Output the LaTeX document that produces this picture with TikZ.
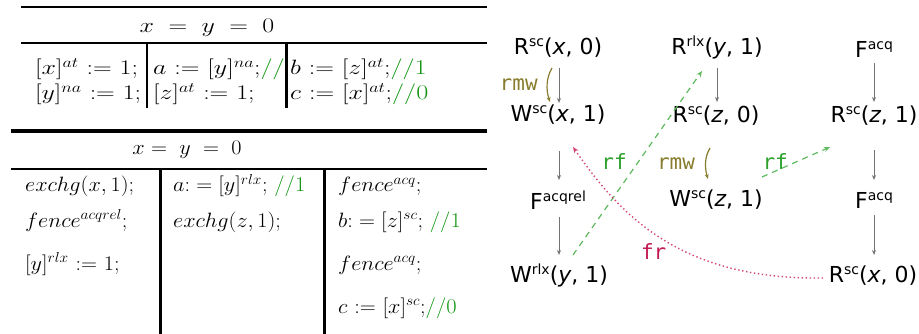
\documentclass[tikz,border=0pt]{standalone}
\usepackage{graphicx}
\usepackage{fontspec}
\usetikzlibrary{arrows.meta}
\newfontfamily\gfont{DejaVu Sans}
\newfontfamily\lfont{DejaVu Sans Mono}
\definecolor{cgreen}{RGB}{20,150,20}
\definecolor{pogray}{RGB}{115,115,115}
\definecolor{rmwcol}{RGB}{135,125,45}
\definecolor{rftext}{RGB}{45,160,45}
\definecolor{rfline}{RGB}{95,185,95}
\definecolor{frtext}{RGB}{195,25,85}
\definecolor{frline}{RGB}{210,70,120}
\newcommand\gsup[1]{\raisebox{8pt}{\fontsize{14}{14}\selectfont #1}}
\newcommand\gv[1]{\textit{#1}}
\newcommand\cmt[1]{\textcolor{cgreen}{#1}}
\newcommand\wa[1]{\scalebox{1.25}[1]{#1}}
\newcommand\wb[1]{\scalebox{1.07}[1]{#1}}
\begin{document}
\begin{tikzpicture}[x=1pt,y=-1pt,
  cellA/.style={font=\fontsize{21}{24}\selectfont, inner sep=0pt, anchor=base west},
  cellB/.style={font=\fontsize{21}{24}\selectfont, inner sep=0pt, anchor=base west},
  hdrA/.style={font=\fontsize{21}{24}\selectfont, inner sep=0pt, anchor=base},
  hdrB/.style={font=\fontsize{21}{24}\selectfont, inner sep=0pt, anchor=base},
  gnode/.style={font=\gfont\fontsize{22}{26}\selectfont, inner sep=0pt, anchor=base},
  elabel/.style={font=\lfont\fontsize{21}{24}\selectfont, inner sep=0pt},
  po/.style={draw=pogray, line width=0.9pt, -{Stealth[length=5pt,width=4pt]}},
  rmwedge/.style={draw=rmwcol, line width=1.2pt, -{Stealth[length=5pt,width=4pt]}},
  rfedge/.style={draw=rfline, line width=1.2pt, dash pattern=on 6pt off 5pt, -{Stealth[length=6pt,width=5pt]}},
  fredge/.style={draw=frline, line width=1.4pt, dash pattern=on 1.4pt off 2.6pt, -{Stealth[length=6pt,width=5pt]}}
]
\useasboundingbox (0,0) rectangle (919,334);

% ---------- Table 1 ----------
\node[hdrA] (h1) at (207,33) {\wa{$x\;=\;y\;=\;0$}};
\node[cellA] (a11) at (35,75) {\wa{$[x]^{at}\ {:=}\ 1;$}};
\node[cellA] (a12) at (35,100) {\wa{$[y]^{na}\ {:=}\ 1;$}};
\begin{scope}
  \clip (148,44) rectangle (285,108);
  \node[cellA] (a21) at (153,75) {\wa{$a\ {:=}\ [y]^{na};$\cmt{//}}};
\end{scope}
\node[cellA] (a22) at (153,100) {\wa{$[z]^{at}\ {:=}\ 1;$}};
\node[cellA] (a31) at (290,75) {\wa{$b\ {:=}\ [z]^{at};$\cmt{//1}}};
\node[cellA] (a32) at (290,100) {\wa{$c\ {:=}\ [x]^{at};$\cmt{//0}}};
\draw[line width=2pt] (21,6.7) -- (487,6.7);
\draw[line width=1.3pt] (21,43) -- (487,43);
\draw[line width=1.3pt] (147,43) -- (147,108);
\draw[line width=3pt] (286,43) -- (286,108);

% ---------- Table 2 ----------
\draw[line width=3.5pt] (11,131) -- (487,131);
\draw[line width=2pt] (11,169) -- (487,169);
\draw[line width=3pt] (160,169) -- (160,334);
\draw[line width=3pt] (324,169) -- (324,334);
\node[hdrB] (h2) at (187,155) {\wb{$x=\;y\;=\;0$}};
\node[cellB] (b11) at (25,192) {\wb{$exchg(x,1);$}};
\node[cellB] (b12) at (25,227) {\wb{$fence^{acqrel};$}};
\node[cellB] (b13) at (25,270) {\wb{$[y]^{rlx}\ {:=}\ 1;$}};
\node[cellB] (b21) at (173,192) {\wb{$a{:}=[y]^{rlx};$ \cmt{//1}}};
\node[cellB] (b22) at (173,227) {\wb{$exchg(z,1);$}};
\node[cellB] (b31) at (338,192) {\wb{$fence^{acq};$}};
\node[cellB] (b32) at (338,227) {\wb{$b{:}=[z]^{sc};$ \cmt{//1}}};
\node[cellB] (b33) at (338,270) {\wb{$fence^{acq};$}};
\node[cellB] (b34) at (338,313) {\wb{$c\ {:=}\ [x]^{sc};$\cmt{//0}}};

% ---------- Graph ----------
\node[gnode] (Rx0a) at (558,55) {R\gsup{sc}(\gv{x}, 0)};
\node[gnode] (Ry1) at (717,55) {R\gsup{rlx}(\gv{y}, 1)};
\node[gnode] (Facqa) at (874,58) {F\gsup{acq}};
\node[gnode] (Wx1) at (558,122) {W\gsup{sc}(\gv{x}, 1)};
\node[gnode] (Rz0) at (716,123) {R\gsup{sc}(\gv{z}, 0)};
\node[gnode] (Rz1) at (874,123) {R\gsup{sc}(\gv{z}, 1)};
\node[gnode] (Facqrel) at (558,210) {F\gsup{acqrel}};
\node[gnode] (Wz1) at (716,207) {W\gsup{sc}(\gv{z}, 1)};
\node[gnode] (Facqb) at (874,208) {F\gsup{acq}};
\node[gnode] (Wrlx) at (559,282) {W\gsup{rlx}(\gv{y}, 1)};
\node[gnode] (Rx0b) at (873,282) {R\gsup{sc}(\gv{x}, 0)};

% program order
\draw[po] ([shift={(1,13)}]Rx0a.base) -- ([shift={(1,-19)}]Wx1.base);
\draw[po] ([shift={(0,13)}]Ry1.base) -- ([shift={(1,-21)}]Rz0.base);
\draw[po] ([shift={(0,5)}]Facqa.base) -- ([shift={(0,-21)}]Rz1.base);
\draw[po] ([shift={(1,29)}]Wx1.base) -- ([shift={(1,-30)}]Facqrel.base);
\draw[po] ([shift={(1,7)}]Facqrel.base) -- ([shift={(0,-27)}]Wrlx.base);
\draw[po] ([shift={(0,27)}]Rz1.base) -- ([shift={(0,-28)}]Facqb.base);
\draw[po] ([shift={(0,7)}]Facqb.base) -- ([shift={(1,-27)}]Rx0b.base);

% rmw
\draw[rmwedge] ([shift={(-6,13)}]Rx0a.base) .. controls +(-6,10) and +(-4,-12) .. ([shift={(-8,-20)}]Wx1.base)
  node[elabel, text=rmwcol, midway, anchor=east, xshift=-9pt] (lrmw1) {rmw};
\draw[rmwedge] ([shift={(-6,25)}]Rz0.base) .. controls +(-6,10) and +(-3,-10) .. ([shift={(-8,-28)}]Wz1.base)
  node[elabel, text=rmwcol, midway, anchor=east, xshift=-10pt] (lrmw2) {rmw};

% rf
\draw[rfedge] ([shift={(14,-27)}]Wrlx.base) -- ([shift={(-15,16)}]Ry1.base)
  node[elabel, text=rftext, pos=0.46, anchor=south east, xshift=-5pt] (lrf1) {rf};
\draw[rfedge] ([shift={(46,-30)}]Wz1.base) -- ([shift={(-44,24)}]Rz1.base)
  node[elabel, text=rftext, pos=0, anchor=south west, yshift=7pt] (lrf2) {rf};

% fr
\draw[fredge] ([shift={(-50,-4)}]Rx0b.base) .. controls +(-143,2) and +(47,68) .. ([shift={(15,25)}]Wx1.base)
  node[elabel, text=frtext, pos=0.55, xshift=3pt, yshift=-20pt] (lfr) {fr};
\end{tikzpicture}
\end{document}
